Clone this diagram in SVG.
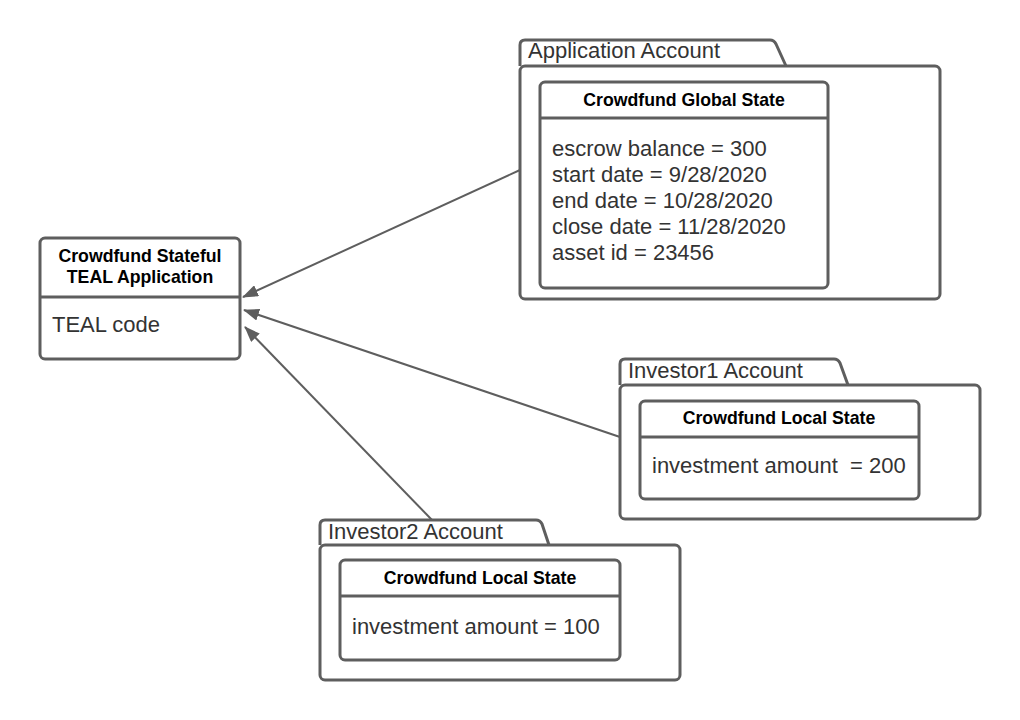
<svg xmlns="http://www.w3.org/2000/svg" width="1020" height="720" viewBox="0 0 1020 720">
<style>
.s{fill:#fff;stroke:#5e5e5e;stroke-width:3;stroke-linejoin:round}
.d{stroke:#5e5e5e;stroke-width:3}
.t{font-family:"Liberation Sans",Arial,sans-serif;font-weight:bold;font-size:17.7px;fill:#000;text-anchor:middle}
.b{font-family:"Liberation Sans",Arial,sans-serif;font-size:22px;fill:#333}
.c{stroke:#5e5e5e;stroke-width:2;fill:none}
</style>
<defs>
<marker id="ah" viewBox="0 0 16 12" refX="15" refY="6" markerWidth="16" markerHeight="12" markerUnits="userSpaceOnUse" orient="auto">
<path d="M0,0 L16,6 L0,12 Z" fill="#5e5e5e"/>
</marker>
</defs>
<g id="connectors">
<line class="c" x1="520" y1="170" x2="243" y2="297" marker-end="url(#ah)"/>
<line class="c" x1="620" y1="437" x2="244" y2="310" marker-end="url(#ah)"/>
<line class="c" x1="432" y1="520" x2="245" y2="327" marker-end="url(#ah)"/>
</g>
<g id="app-account">
<path class="s" d="M520,66 L520,45 Q520,40 525,40 L770,40 Q774,40 776,44 L786,66"/>
<rect class="s" x="520" y="66" width="420" height="233" rx="5"/>
<text class="b" x="528" y="58">Application Account</text>
</g>
<g id="global-state">
<rect class="s" x="540" y="82" width="288" height="206" rx="5"/>
<line class="d" x1="540" y1="118" x2="828" y2="118"/>
<text class="t" x="684" y="106">Crowdfund Global State</text>
<text class="b" x="552" y="156">escrow balance = 300</text>
<text class="b" x="552" y="182">start date = 9/28/2020</text>
<text class="b" x="552" y="208">end date = 10/28/2020</text>
<text class="b" x="552" y="234">close date = 11/28/2020</text>
<text class="b" x="552" y="260">asset id = 23456</text>
</g>
<g id="teal-app">
<rect class="s" x="40" y="238" width="200" height="121" rx="5"/>
<line class="d" x1="40" y1="297" x2="240" y2="297"/>
<text class="t" x="140" y="262">Crowdfund Stateful</text>
<text class="t" x="140" y="283">TEAL Application</text>
<text class="b" x="52" y="332">TEAL code</text>
</g>
<g id="investor1-account">
<path class="s" d="M620,385 L620,364 Q620,359 625,359 L834,359 Q838,359 840,363 L848,385"/>
<rect class="s" x="620" y="385" width="360" height="134" rx="5"/>
<text class="b" x="628" y="378">Investor1 Account</text>
</g>
<g id="investor1-state">
<rect class="s" x="640" y="401" width="279" height="98" rx="5"/>
<line class="d" x1="640" y1="437" x2="919" y2="437"/>
<text class="t" x="779" y="424">Crowdfund Local State</text>
<text class="b" x="652" y="473" xml:space="preserve">investment amount  = 200</text>
</g>
<g id="investor2-account">
<path class="s" d="M320,545 L320,525 Q320,520 325,520 L536,520 Q540,520 542,524 L549,545"/>
<rect class="s" x="320" y="545" width="360" height="135" rx="5"/>
<text class="b" x="328" y="539">Investor2 Account</text>
</g>
<g id="investor2-state">
<rect class="s" x="340" y="560" width="280" height="100" rx="5"/>
<line class="d" x1="340" y1="596" x2="620" y2="596"/>
<text class="t" x="480" y="584">Crowdfund Local State</text>
<text class="b" x="352" y="634">investment amount = 100</text>
</g>
</svg>
